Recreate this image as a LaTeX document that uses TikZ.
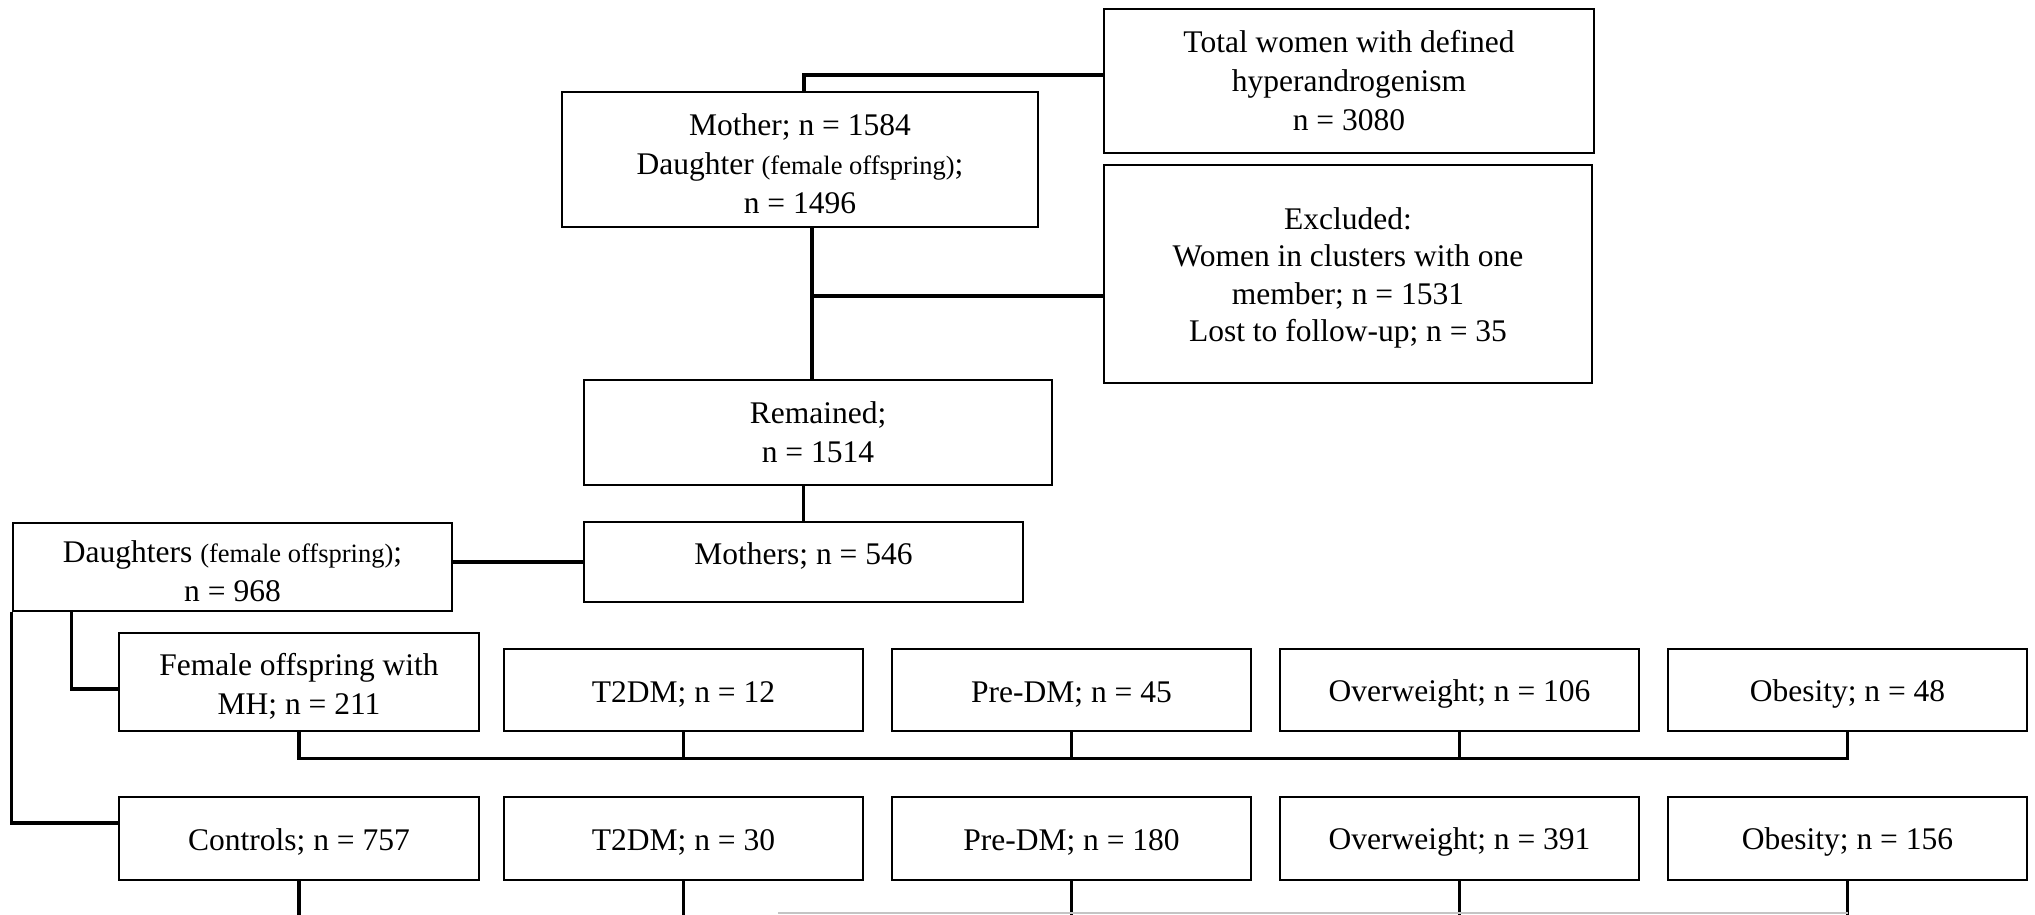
\documentclass[tikz,border=0pt]{standalone}
\usepackage{fontspec}
\setmainfont{Liberation Serif}
\usetikzlibrary{positioning}
\definecolor{flowInk}{HTML}{000000}
\definecolor{flowFaint}{HTML}{C4C4C4}
\newcommand{\offspr}{{\fontsize{26.5}{39}\selectfont(female offspring)}}

\begin{document}
\begin{tikzpicture}[x=1pt,y=-1pt,line cap=butt,line join=miter]
\useasboundingbox[fill=white] (0,0) rectangle (2035,914);
\tikzset{box/.style={draw=flowInk,line width=2.8pt,align=center,inner sep=0pt,execute at begin node={\rule{0pt}{29.5pt}},font=\fontsize{31.5}{39}\selectfont},rowbox/.style={box,minimum width=359pt,minimum height=82pt},wire/.style={draw=flowInk,line width=3.4pt},faint/.style={draw=flowFaint,line width=1.6pt}}
\node[box,minimum width=490pt,minimum height=144pt] (total) at (1349,81) {Total women with defined\\hyperandrogenism\\n = 3080};
\node[box,minimum width=476pt,minimum height=135pt,text height=108.5pt] (mother) at (800,159.5) {Mother; n = 1584\\Daughter \offspr;\\n = 1496};
\node[box,minimum width=488pt,minimum height=218pt,text height=141.4pt,font=\fontsize{31.5}{37.3}\selectfont] (excl) at (1348,274) {Excluded:\\Women in clusters with one\\member; n = 1531\\Lost to follow-up; n = 35};
\node[box,minimum width=468pt,minimum height=105pt] (remained) at (818,432.5) {Remained;\\n = 1514};
\node[box,minimum width=439pt,minimum height=80pt,text height=30pt,text depth=25pt] (mothers) at (803.5,562) {Mothers; n = 546};
\node[box,minimum width=439pt,minimum height=88pt,text height=69.5pt] (daughters) at (232.5,567) {Daughters \offspr;\\n = 968};
\node[box,minimum width=360pt,minimum height=98pt,text height=69.5pt] (female) at (299,682) {Female offspring with\\MH; n = 211};
\node[rowbox] (t2dmA) at (683.5,690) {T2DM; n = 12}; \node[rowbox] (predmA) at (1071.5,690) {Pre-DM; n = 45};
\node[rowbox] (owA) at (1459.5,690) {Overweight; n = 106}; \node[rowbox] (obA) at (1847.5,690) {Obesity; n = 48};
\node[rowbox,minimum width=360pt,minimum height=83pt] (controls) at (299,838.5) {Controls; n = 757};
\node[rowbox,minimum height=83pt] (t2dmB) at (683.5,838.5) {T2DM; n = 30}; \node[rowbox,minimum height=83pt] (predmB) at (1071.5,838.5) {Pre-DM; n = 180};
\node[rowbox,minimum height=83pt] (owB) at (1459.5,838.5) {Overweight; n = 391}; \node[rowbox,minimum height=83pt] (obB) at (1847.5,838.5) {Obesity; n = 156};
\coordinate (trunk) at ([xshift=12pt]mother.south); \coordinate (exclJoin) at ([yshift=-22pt]excl.west);
\coordinate (dTap) at ([xshift=60pt]daughters.south west); \coordinate (femJoin) at ([yshift=-7pt]female.west);
\coordinate (ctlJoin) at ([yshift=15.5pt]controls.west); \coordinate (cut) at (778,913);
\draw[wire] ([yshift=6pt]total.west) -| ([xshift=4pt]mother.north);
\draw[wire] (trunk) -- (trunk |- remained.north); \draw[wire] (exclJoin) -- (exclJoin -| trunk);
\draw[wire] (mothers.north) -- (mothers.north |- remained.south);
\draw[wire] (mothers.west) -- (mothers.west -| daughters.east);
\draw[wire] (daughters.south west) |- (ctlJoin); \draw[wire] (dTap) |- (femJoin);
\draw[wire] (female.south) -- ++(0,26) -| (obA.south);
\foreach \b in {t2dmA,predmA,owA} \draw[wire] (\b.south) -- ++(0,26);
\foreach \b in {controls,t2dmB,predmB,owB,obB} \draw[wire] (\b.south) -- ++(0,36);
\draw[faint] (cut) -- (cut -| obB.south);
\end{tikzpicture}
\end{document}
